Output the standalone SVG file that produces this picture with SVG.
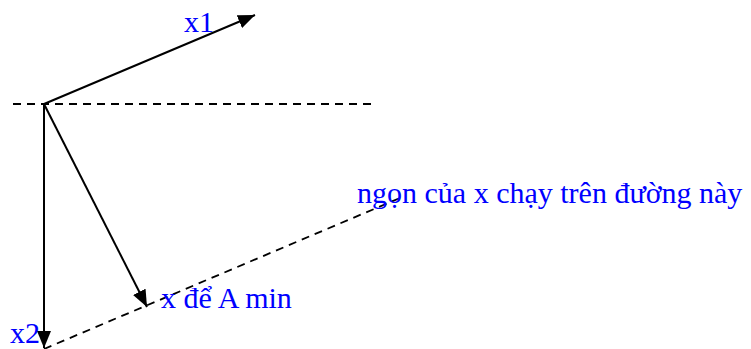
<svg xmlns="http://www.w3.org/2000/svg" width="751" height="349" viewBox="0 0 751 349">
<style>
.t{font-family:"Liberation Serif","Times New Roman",serif;font-size:30px;fill:#0000ff}
.l{stroke:#000;stroke-width:2;fill:none}
.d{stroke:#000;stroke-width:1.8;fill:none;stroke-dasharray:8,6}
</style>
<defs>
<marker id="ah" markerWidth="17" markerHeight="14" refX="17" refY="7" orient="auto" markerUnits="userSpaceOnUse">
<path d="M0,0 L17,7 L0,14 Z" fill="#000"/>
</marker>
</defs>
<rect width="751" height="349" fill="#fff"/>
<g id="connectors">
<line class="d" x1="13" y1="104" x2="377" y2="104"/>
<line class="d" x1="44" y1="349" x2="400" y2="198"/>
<line class="l" x1="44" y1="104" x2="255" y2="15" marker-end="url(#ah)"/>
<line class="l" x1="44" y1="104" x2="44" y2="348" marker-end="url(#ah)"/>
<line class="l" x1="44" y1="104" x2="147" y2="307" marker-end="url(#ah)"/>
</g>
<g id="x1"><text class="t" x="184" y="32">x1</text></g>
<g id="x2"><text class="t" x="10" y="343">x2</text></g>
<g id="xmin"><text class="t" x="161" y="308">x để A min</text></g>
<g id="line-label"><text class="t" x="357" y="203">ngọn của x chạy trên đường này</text></g>
</svg>
